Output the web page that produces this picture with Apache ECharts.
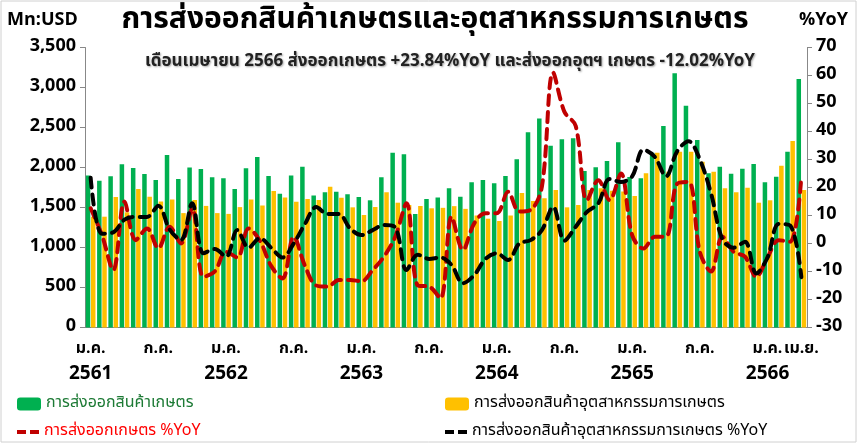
<!DOCTYPE html>
<html>
<head>
<meta charset="utf-8">
<script src="https://cdn.jsdelivr.net/npm/echarts@6/dist/echarts.min.js"></script>
<style>
  html, body { margin: 0; padding: 0; background: #fff; }
  #main { width: 857px; height: 443px; }
</style>
</head>
<body>
<div id="main"></div>
<script>
// เดือน / ปี สำหรับแกน X
const monthNames = ['ม.ค.', 'ก.พ.', 'มี.ค.', 'เม.ย.', 'พ.ค.', 'มิ.ย.', 'ก.ค.', 'ส.ค.', 'ก.ย.', 'ต.ค.', 'พ.ย.', 'ธ.ค.']
const years = ['2561', '2562', '2563', '2564', '2565', '2566']

// มูลค่าส่งออก (Mn:USD)
const agriExport = [
  1900, 1835, 1890, 2040, 1995, 1920, 1845, 2156, 1856, 2000, 1980, 1877,
  1865, 1731, 1992, 2130, 1894, 1673, 1900, 2010, 1650, 1690, 1698, 1665,
  1631, 1590, 1877, 2185, 2165, 1419, 1606, 1625, 1740, 1635, 1815, 1844,
  1802, 1894, 2102, 2440, 2612, 2273, 2352, 2365, 1956, 2002, 2081, 2315,
  1880, 1865, 2185, 2519, 3177, 2773, 2344, 1927, 2010, 1923, 1985, 2044,
  1815, 1885, 2198, 3106
]
const agroIndExport = [
  1385, 1385, 1630, 1440, 1730, 1635, 1575, 1600, 1430, 1595, 1520, 1430,
  1420, 1505, 1600, 1525, 1705, 1625, 1572, 1606, 1594, 1760, 1623, 1502,
  1406, 1506, 1690, 1560, 1531, 1519, 1490, 1496, 1517, 1483, 1400, 1360,
  1331, 1400, 1681, 1581, 1615, 1719, 1502, 1531, 1719, 1740, 1710, 1700,
  1644, 1927, 2185, 1948, 2198, 2198, 2073, 1948, 1740, 1690, 1748, 1560,
  1590, 2023, 2331, 1719
]

// %YoY
const agriYoY = [
  12.6, 3, -9.5, 15, 1.2, 5.4, -1.7, 6, 0, 12.5, -11.9, -10,
  -3, -5, 5.4, 1, -8, -12.5, 2.4, -8, -15, -15.4, -13, -13,
  -13.5, -9.5, -4.7, 2.4, 14.4, -15, -15.4, -19.6, 9.6, -2.3, 7.2, 10.8,
  10.8, 18.5, 11.4, 12, 20.3, 61, 47, 42, 15.5, 22.6, 15.5, 25,
  3, -1.8, 2.4, 2.5, 21.4, 22, -3, -10, 2.4, -3, -4.7, -11.9,
  -5, 1.2, 0.6, 23.84
]
const agroIndYoY = [
  23.5, 3.5, 4, 8.5, 9.5, 9.5, 13.5, 5, 1.2, 14.4, -3.5, -2,
  -4.7, 4.8, -1.5, 1.9, -1.5, -5, 0, 7, 13, 10.5, 10.5, 5.4,
  3, 4.8, 6.6, 5.8, -9.5, -4, -5.5, -5, -7.7, -14.2, -11.3, -5.5,
  -3.5, -5.9, 0, 1.2, 4.8, 13.1, 1, 6, 11.3, 14.3, 23, 22,
  24, 33.5, 31, 24, 33, 36.5, 30, 17.8, 1.5, -1.5, 0.6, -10.7,
  -5, 7, 6.5, -12.02
]

const categories = []
years.forEach(y => monthNames.forEach(m => categories.push(m + ' ' + y)))
categories.length = agriExport.length
const lastIdx = categories.length - 1

const FONT = 'Tahoma, "Noto Sans Thai", "Noto Sans", "DejaVu Sans", sans-serif'
const DASH_ICON = 'path://M0,0h9v4h-9z M13,0h9v4h-9z'
const monthLabel = { color: '#000', fontSize: 16, fontWeight: 'bold', fontFamily: FONT, hideOverlap: false }

// แกน X ช่วยสำหรับป้ายชื่อ (ไม่มีเส้นแกน)
const labelAxis = (interval, formatter, margin, style) => ({
  type: 'category', data: categories, position: 'bottom',
  axisLine: { show: false }, axisTick: { show: false },
  axisLabel: Object.assign({ interval, formatter, margin }, style)
})

const chart = echarts.init(document.getElementById('main'))
chart.setOption({
  animation: false,
  textStyle: { fontFamily: FONT },
  title: [
    {
      text: 'การส่งออกสินค้าเกษตรและอุตสาหกรรมการเกษตร',
      left: 430, top: 2, textAlign: 'center',
      textStyle: { fontSize: 30, fontWeight: 'bold', color: '#000', fontFamily: FONT }
    },
    {
      text: 'เดือนเมษายน 2566 ส่งออกเกษตร +23.84%YoY และส่งออกอุตฯ เกษตร -12.02%YoY',
      left: 445, top: 49, textAlign: 'center',
      textStyle: {
        fontSize: 17, fontWeight: 'bold', color: '#222', fontFamily: FONT,
        textShadowColor: 'rgba(0,0,0,0.35)', textShadowBlur: 2, textShadowOffsetX: 1, textShadowOffsetY: 1
      }
    }
  ],
  graphic: [
    { type: 'text', left: 7, top: 12, style: { text: 'Mn:USD', font: 'bold 18px ' + FONT, fill: '#000' } },
    { type: 'text', left: 799, top: 12, style: { text: '%YoY', font: 'bold 18px ' + FONT, fill: '#000' } },
    { type: 'rect', shape: { x: 1, y: 1, width: 855, height: 441 }, style: { fill: 'none', stroke: '#d0d0d0', lineWidth: 1 } }
  ],
  grid: { left: 85, right: 50, top: 47.5, bottom: 115.5 },
  legend: [
    {
      left: 12, top: 391, itemWidth: 24, itemHeight: 13,
      textStyle: { fontSize: 16, fontFamily: FONT, color: '#1d7a35' },
      data: ['การส่งออกสินค้าเกษตร']
    },
    {
      left: 440, top: 391, itemWidth: 24, itemHeight: 13,
      textStyle: { fontSize: 16, fontFamily: FONT, color: '#000' },
      data: ['การส่งออกสินค้าอุตสาหกรรมการเกษตร']
    },
    {
      left: 12, top: 419, itemWidth: 22, itemHeight: 4, icon: DASH_ICON,
      textStyle: { fontSize: 16, fontFamily: FONT, color: '#ff0000' },
      data: ['การส่งออกเกษตร %YoY']
    },
    {
      left: 440, top: 419, itemWidth: 22, itemHeight: 4, icon: DASH_ICON,
      textStyle: { fontSize: 16, fontFamily: FONT, color: '#000' },
      data: ['การส่งออกสินค้าอุตสาหกรรมการเกษตร %YoY']
    }
  ],
  xAxis: [
    {
      type: 'category',
      data: categories,
      axisLine: { lineStyle: { color: '#888' } },
      axisTick: { interval: 0, length: 5, lineStyle: { color: '#888' } },
      axisLabel: Object.assign({
        interval: (i) => i % 6 === 0,
        formatter: (v) => v.split(' ')[0],
        margin: 14
      }, monthLabel)
    },
    // เดือนล่าสุด (เม.ย.)
    labelAxis((i) => i === lastIdx, (v) => v.split(' ')[0], 14, monthLabel),
    // ปี พ.ศ.
    labelAxis((i) => i % 12 === 0, (v) => v.split(' ')[1], 38,
      { color: '#000', fontSize: 19, fontWeight: 'bold', fontFamily: FONT })
  ],
  yAxis: [
    {
      type: 'value', min: 0, max: 3500, interval: 500,
      splitLine: { show: false },
      axisLine: { show: true, lineStyle: { color: '#888' } },
      axisTick: { show: true, length: 5, lineStyle: { color: '#888' } },
      axisLabel: {
        color: '#000', fontSize: 18, fontWeight: 'bold', margin: 9,
        formatter: (v) => v.toLocaleString('en-US')
      }
    },
    {
      type: 'value', min: -30, max: 70, interval: 10,
      splitLine: { show: false },
      axisLine: { show: true, lineStyle: { color: '#888' } },
      axisTick: { show: true, length: 5, lineStyle: { color: '#888' } },
      axisLabel: { color: '#000', fontSize: 18, fontWeight: 'bold', margin: 9 }
    }
  ],
  series: [
    {
      name: 'การส่งออกสินค้าเกษตร', type: 'bar', data: agriExport,
      barWidth: 4.5, barGap: '15%', itemStyle: { color: '#00b050' }
    },
    {
      name: 'การส่งออกสินค้าอุตสาหกรรมการเกษตร', type: 'bar', data: agroIndExport,
      barWidth: 4.5, barGap: '15%', itemStyle: { color: '#ffc000' }
    },
    {
      name: 'การส่งออกเกษตร %YoY', type: 'line', yAxisIndex: 1, data: agriYoY,
      smooth: 0.35, symbol: 'none',
      lineStyle: { color: '#c00000', width: 4, type: [10, 7], cap: 'round' },
      itemStyle: { color: '#c00000' }
    },
    {
      name: 'การส่งออกสินค้าอุตสาหกรรมการเกษตร %YoY', type: 'line', yAxisIndex: 1, data: agroIndYoY,
      smooth: 0.35, symbol: 'none',
      lineStyle: { color: '#000', width: 4, type: [10, 7], cap: 'round' },
      itemStyle: { color: '#000' }
    }
  ]
})
</script>
</body>
</html>
